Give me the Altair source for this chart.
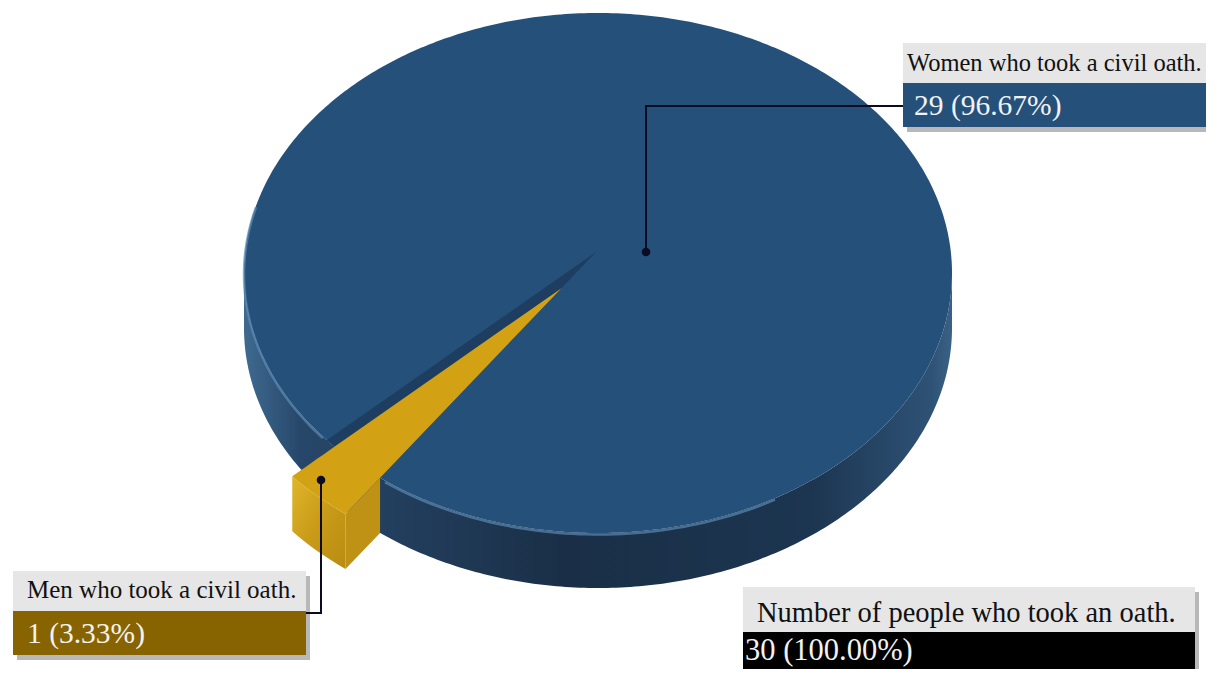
import altair as alt
import numpy as np
import pandas as pd

# ---------------- data ----------------
categories = ["Women who took a civil oath.", "Men who took a civil oath."]
counts = [29, 1]
slice_colors = ["#24507a", "#d2a214"]
total_label = "Number of people who took an oath."

total = sum(counts)
value_labels = [f"{c} ({c / total * 100:.2f}%)" for c in counts]
total_value_label = f"{total} ({100:.2f}%)"

# ---------------- layout (page-pixel frame) ----------------
W, H = 1198, 661
X0, Y0 = 8, 8
CX, CY, RX, RY = 598, 273, 354, 260     # top face ellipse
APEX = (596, 252)                        # visual pie centre
DEPTH = 55
START_CLOCK = 230                        # first slice starts here (deg clockwise from 12 o'clock)
EXPLODE = 0.16
FONT = "Liberation Serif"


def ell(a_deg):
    r = np.radians(a_deg)
    return CX + RX * np.cos(r), CY - RY * np.sin(r)


def convex_rows(pts, part="p"):
    xs = sorted(set(round(float(p[0]), 5) for p in pts))
    n = len(pts)
    rows = []
    for x in xs:
        ys = []
        for i in range(n):
            x0, y0 = pts[i]
            x1, y1 = pts[(i + 1) % n]
            if abs(x1 - x0) < 1e-9:
                if abs(x - x0) < 1e-4:
                    ys += [y0, y1]
            elif min(x0, x1) - 1e-4 <= x <= max(x0, x1) + 1e-4:
                ys.append(y0 + (y1 - y0) * (x - x0) / (x1 - x0))
        rows.append(dict(x=x, y=min(ys), y2=max(ys), part=part))
    return pd.DataFrame(rows)


# slice angles from the data
spans = []
clock = START_CLOCK
for c in counts:
    span = 360 * c / total
    spans.append((clock, clock + span))
    clock += span
men_start, men_end = spans[1]
a_hi = (90 - men_start) % 360
a_lo = (90 - men_end) % 360
if a_hi < a_lo:
    a_hi += 360

xsc = alt.Scale(domain=[X0, X0 + W], nice=False, zero=False)
ysc = alt.Scale(domain=[Y0, Y0 + H], reverse=True, nice=False, zero=False)


def X(f="x"):
    return alt.X(f"{f}:Q", scale=xsc, axis=None)


def Y(f="y"):
    return alt.Y(f"{f}:Q", scale=ysc, axis=None)


def area(df, color, **kw):
    return alt.Chart(df).mark_area(orient="vertical", interpolate="linear", color=color, **kw).encode(
        x=X(), y=Y(), y2=alt.Y2("y2:Q"), detail="part:N")


# blue side (front half, extruded)
a = np.linspace(180, 360, 241)
sx, sy = ell(a)
side_df = pd.DataFrame(dict(x=sx, y=sy, y2=sy + DEPTH, part="side"))
side_grad = alt.Gradient(gradient="linear", x1=0, x2=1, y1=0, y2=0, stops=[
    alt.GradientStop(color="#3f6a90", offset=0),
    alt.GradientStop(color="#27476a", offset=0.08),
    alt.GradientStop(color="#1a2f47", offset=0.45),
    alt.GradientStop(color="#1c3550", offset=0.8),
    alt.GradientStop(color="#2e5275", offset=0.97),
    alt.GradientStop(color="#3a6184", offset=1),
])

# blue top face
t = np.linspace(0, 180, 241)
tx, ty = ell(t)
top_df = pd.DataFrame(dict(x=tx, y=ty, y2=2 * CY - ty, part="top"))

# rim highlight
hl_rows = []
for seg, (s, e) in enumerate([(165, a_lo - 1), (a_hi + 1, 300)]):
    aa = np.linspace(s, e, 60)
    hx, hy = ell(aa)
    for i, (u, v) in enumerate(zip(hx, hy)):
        hl_rows.append(dict(x=u, y=v + 1.5, o=i, seg=seg))
hl_df = pd.DataFrame(hl_rows)

# notch
arc = np.linspace(a_lo, a_hi, 9)
ax_, ay_ = ell(arc)
notch_pts = [APEX] + list(zip(ax_, ay_))
notch_df = convex_rows(notch_pts, "notch")

# gold slice (exploded along its clockwise edge)
R_hi = ell(a_hi)
off = (EXPLODE * (R_hi[0] - APEX[0]), EXPLODE * (R_hi[1] - APEX[1]))
gx, gy = ax_ + off[0], ay_ + off[1]
apex_g = (APEX[0] + off[0], APEX[1] + off[1])
gold_top_df = convex_rows([apex_g] + list(zip(gx, gy)), "gtop")
gold_front_df = pd.DataFrame(dict(x=gx, y=gy, y2=gy + DEPTH, part="gfront"))
R2g = (gx[-1], gy[-1])
gold_cut_df = convex_rows([R2g, R_hi, (R_hi[0], R_hi[1] + DEPTH), (R2g[0], R2g[1] + DEPTH)], "gcut")

front_grad = alt.Gradient(gradient="linear", x1=0, x2=1, y1=0, y2=1, stops=[
    alt.GradientStop(color="#e0b52a", offset=0),
    alt.GradientStop(color="#c99b18", offset=0.5),
    alt.GradientStop(color="#b88c12", offset=1),
])

# ---------------- annotations ----------------
dots = pd.DataFrame(dict(x=[646, 321], y=[252, 480]))
leaders = pd.DataFrame(dict(
    x=[646, 646, 903, 321, 321, 306],
    y=[252, 106, 106, 480, 613, 613],
    o=[0, 1, 2, 0, 1, 2],
    g=["w", "w", "w", "m", "m", "m"]))

boxes = pd.DataFrame(dict(
    x=[903, 903, 13, 13, 743, 743],
    x2=[1206, 1206, 306, 306, 1195, 1195],
    y=[43, 83, 571, 611, 587, 632],
    y2=[83, 127, 611, 655, 632, 669],
    kind=["lab", "val", "lab", "val", "lab", "val"],
    fill=["#e6e6e6", slice_colors[0], "#e6e6e6", "#876400", "#e6e6e6", "#000000"]))
shadows = boxes.groupby(boxes.index // 2).agg(dict(x="min", x2="max", y="min", y2="max"))
shadows["x"] += 4
shadows["x2"] = (shadows["x2"] + 4).clip(upper=X0 + W)
shadows["y"] += 5
shadows["y2"] = (shadows["y2"] + 5).clip(upper=Y0 + H)

label_text = pd.DataFrame(dict(
    x=[907, 27, 757], y=[71, 598, 622],
    text=[categories[0], categories[1], total_label],
    size=[24.5, 25, 28.5]))
value_text = pd.DataFrame(dict(
    x=[914, 27, 745], y=[115, 643, 660],
    text=[value_labels[0], value_labels[1], total_value_label],
    size=[29.5, 29.5, 30.5]))

layers = [
    area(side_df, side_grad),
    area(top_df, slice_colors[0]),
    alt.Chart(hl_df).mark_line(color="#5b89b2", strokeWidth=2.5, opacity=0.7).encode(
        x=X(), y=Y(), order="o:Q", detail="seg:N"),
    area(notch_df, "#1d3e60"),
    area(gold_cut_df, "#bf9215"),
    area(gold_front_df, front_grad),
    area(gold_top_df, slice_colors[1]),
    alt.Chart(leaders).mark_line(color="#0b0b24", strokeWidth=2).encode(
        x=X(), y=Y(), order="o:Q", detail="g:N"),
    alt.Chart(dots).mark_point(filled=True, size=75, color="#0b0b24", opacity=1).encode(x=X(), y=Y()),
    alt.Chart(shadows).mark_rect(color="#000000", opacity=0.28).encode(
        x=X(), x2="x2:Q", y=Y(), y2="y2:Q"),
    alt.Chart(boxes).mark_rect().encode(
        x=X(), x2="x2:Q", y=Y(), y2="y2:Q",
        fill=alt.Fill("fill:N", scale=None)),
    alt.Chart(label_text).mark_text(align="left", baseline="alphabetic", font=FONT,
                                    color="#111111").encode(
        x=X(), y=Y(), text="text:N", size=alt.Size("size:Q", scale=None)),
    alt.Chart(value_text).mark_text(align="left", baseline="alphabetic", font=FONT,
                                    color="#f2f2f2").encode(
        x=X(), y=Y(), text="text:N", size=alt.Size("size:Q", scale=None)),
]

chart = alt.layer(*layers).properties(
    width=W, height=H, padding=0, background="white",
    autosize=alt.AutoSizeParams(type="none")).configure_view(stroke=None)

chart.save("out.html", embed_options={"renderer": "svg", "actions": False})
